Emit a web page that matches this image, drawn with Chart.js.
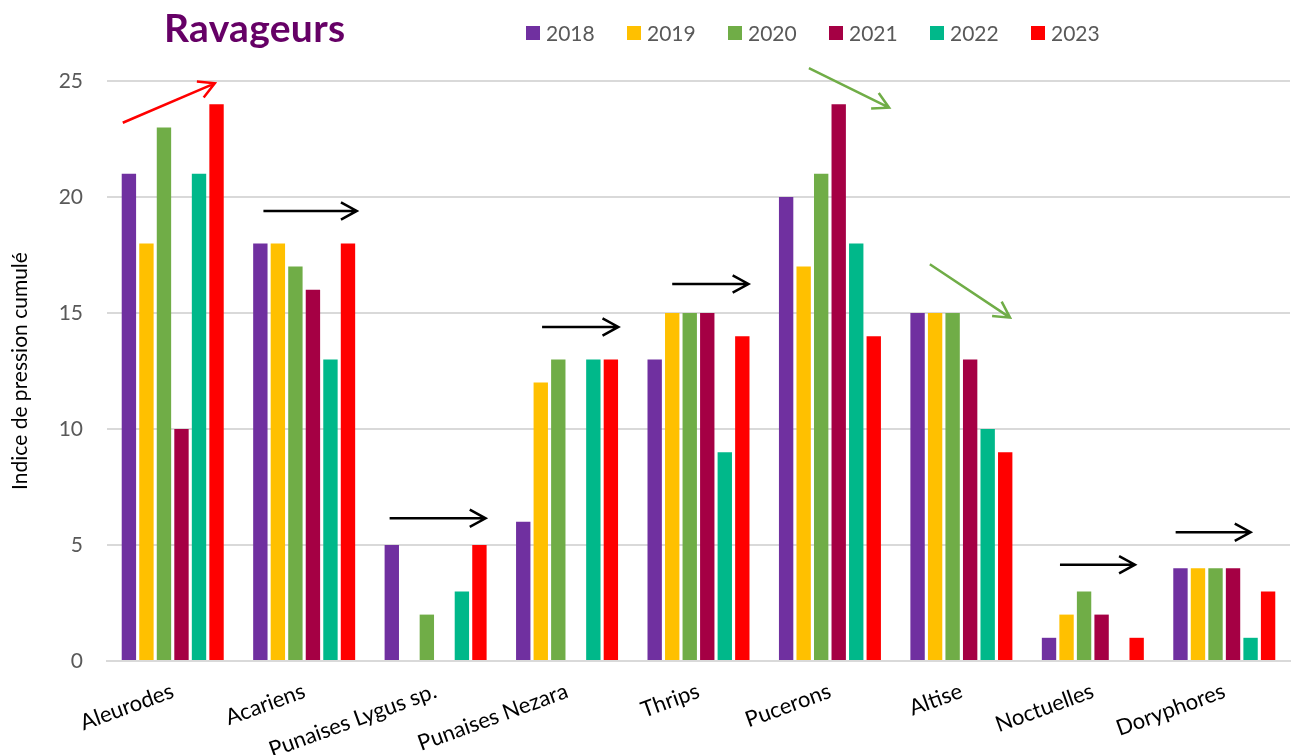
<!DOCTYPE html>
<html>
<head>
<meta charset="utf-8">
<script src="https://cdn.jsdelivr.net/npm/chart.js@4/dist/chart.umd.min.js"></script>
<style>
  body { margin: 0; background: #fff; }
  #wrap { position: relative; width: 1291px; height: 755px; }
  #titre { position: absolute; left: 164px; top: 4px; font: bold 39px Lato, sans-serif; color: #660066; letter-spacing: 0.3px; }
  #legende { position: absolute; left: 526px; top: 20px; display: flex; font: 21px Lato, sans-serif; color: #595959; }
  #legende span.item { display: flex; align-items: center; width: 101px; }
  #legende span.box { width: 14px; height: 14px; margin-right: 6px; display: inline-block; }
</style>
</head>
<body>
<div id="wrap">
  <canvas id="myChart" width="1291" height="755"></canvas>
  <div id="titre">Ravageurs</div>
  <div id="legende"></div>
</div>
<script>
const categories = ['Aleurodes', 'Acariens', 'Punaises Lygus sp.', 'Punaises Nezara', 'Thrips', 'Pucerons', 'Altise', 'Noctuelles', 'Doryphores'];
const annees = ['2018', '2019', '2020', '2021', '2022', '2023'];
const couleurs = ['#7030A0', '#FFC000', '#70AD47', '#A50044', '#00B88A', '#FF0000'];

const v2018 = [21, 18, 5, 6, 13, 20, 15, 1, 4];
const v2019 = [18, 18, null, 12, 15, 17, 15, 2, 4];
const v2020 = [23, 17, 2, 13, 15, 21, 15, 3, 4];
const v2021 = [10, 16, null, null, 15, 24, 13, 2, 4];
const v2022 = [21, 13, 3, 13, 9, 18, 10, null, 1];
const v2023 = [24, 18, 5, 13, 14, 14, 9, 1, 3];
const series = [v2018, v2019, v2020, v2021, v2022, v2023];

const yTicks = [0, 5, 10, 15, 20, 25];

// flèches de tendance : [x début, y début, x fin, y fin] en unités de catégorie / valeur
const fleches = [
    [-0.38, 23.2, 0.32, 24.9, '#FF0000'],
    [0.69, 19.4, 1.40, 19.4, '#000000'],
    [1.65, 6.15, 2.38, 6.15, '#000000'],
    [2.81, 14.4, 3.39, 14.4, '#000000'],
    [3.80, 16.25, 4.38, 16.25, '#000000'],
    [4.84, 25.55, 5.45, 23.85, '#70AD47'],
    [5.76, 17.1, 6.37, 14.8, '#70AD47'],
    [6.75, 4.15, 7.32, 4.15, '#000000'],
    [7.63, 5.55, 8.20, 5.55, '#000000']
];

const legende = document.getElementById('legende');
annees.forEach(function (a, i) {
    const item = document.createElement('span');
    item.className = 'item';
    item.innerHTML = '<span class="box" style="background:' + couleurs[i] + '"></span>' + a;
    legende.appendChild(item);
});

const flechesPlugin = {
    id: 'fleches',
    afterDatasetsDraw(chart) {
        const ctx = chart.ctx;
        const xs = chart.scales.x, ys = chart.scales.y;
        const pas = xs.getPixelForValue(1) - xs.getPixelForValue(0);
        fleches.forEach(function (f) {
            const x1 = xs.getPixelForValue(0) + f[0] * pas;
            const y1 = ys.getPixelForValue(f[1]);
            const x2 = xs.getPixelForValue(0) + f[2] * pas;
            const y2 = ys.getPixelForValue(f[3]);
            const ang = Math.atan2(y2 - y1, x2 - x1);
            ctx.save();
            ctx.strokeStyle = f[4];
            ctx.lineWidth = 2.5;
            ctx.beginPath();
            ctx.moveTo(x1, y1);
            ctx.lineTo(x2, y2);
            ctx.moveTo(x2 - 18 * Math.cos(ang - 0.5), y2 - 18 * Math.sin(ang - 0.5));
            ctx.lineTo(x2, y2);
            ctx.lineTo(x2 - 18 * Math.cos(ang + 0.5), y2 - 18 * Math.sin(ang + 0.5));
            ctx.stroke();
            ctx.restore();
        });
    }
};

const ctx = document.getElementById('myChart').getContext('2d');
new Chart(ctx, {
    type: 'bar',
    data: {
        labels: categories,
        datasets: annees.map(function (a, i) {
            return {
                label: a,
                data: series[i],
                backgroundColor: couleurs[i],
                borderWidth: 0,
                categoryPercentage: 0.8,
                barPercentage: 0.82
            };
        })
    },
    options: {
        responsive: false,
        animation: false,
        layout: { padding: { top: 81, right: 1, left: 0, bottom: 0 } },
        plugins: {
            legend: { display: false },
            title: { display: false },
            tooltip: { enabled: false }
        },
        scales: {
            x: {
                grid: { display: false },
                border: { color: '#D9D9D9', width: 2 },
                ticks: {
                    color: '#000',
                    font: { family: 'Lato', size: 22 },
                    maxRotation: 20,
                    minRotation: 20,
                    autoSkip: false,
                    padding: 9
                },
                afterFit: function (axis) {
                    axis.paddingLeft = 0;
                    axis.paddingRight = 0;
                    axis.height = 94;
                }
            },
            y: {
                min: 0,
                max: 25,
                afterBuildTicks: function (axis) {
                    axis.ticks = yTicks.map(function (v) { return { value: v }; });
                },
                grid: { color: '#D9D9D9', lineWidth: 2, drawTicks: false },
                border: { display: false },
                ticks: {
                    color: '#595959',
                    font: { family: 'Lato', size: 21 },
                    padding: 24
                },
                title: {
                    display: true,
                    text: 'Indice de pression cumulé',
                    color: '#000',
                    font: { family: 'Lato', size: 21 },
                    padding: { top: 8, bottom: 0 }
                },
                afterFit: function (axis) {
                    axis.width = 107;
                }
            }
        }
    },
    plugins: [flechesPlugin]
});
</script>
</body>
</html>
